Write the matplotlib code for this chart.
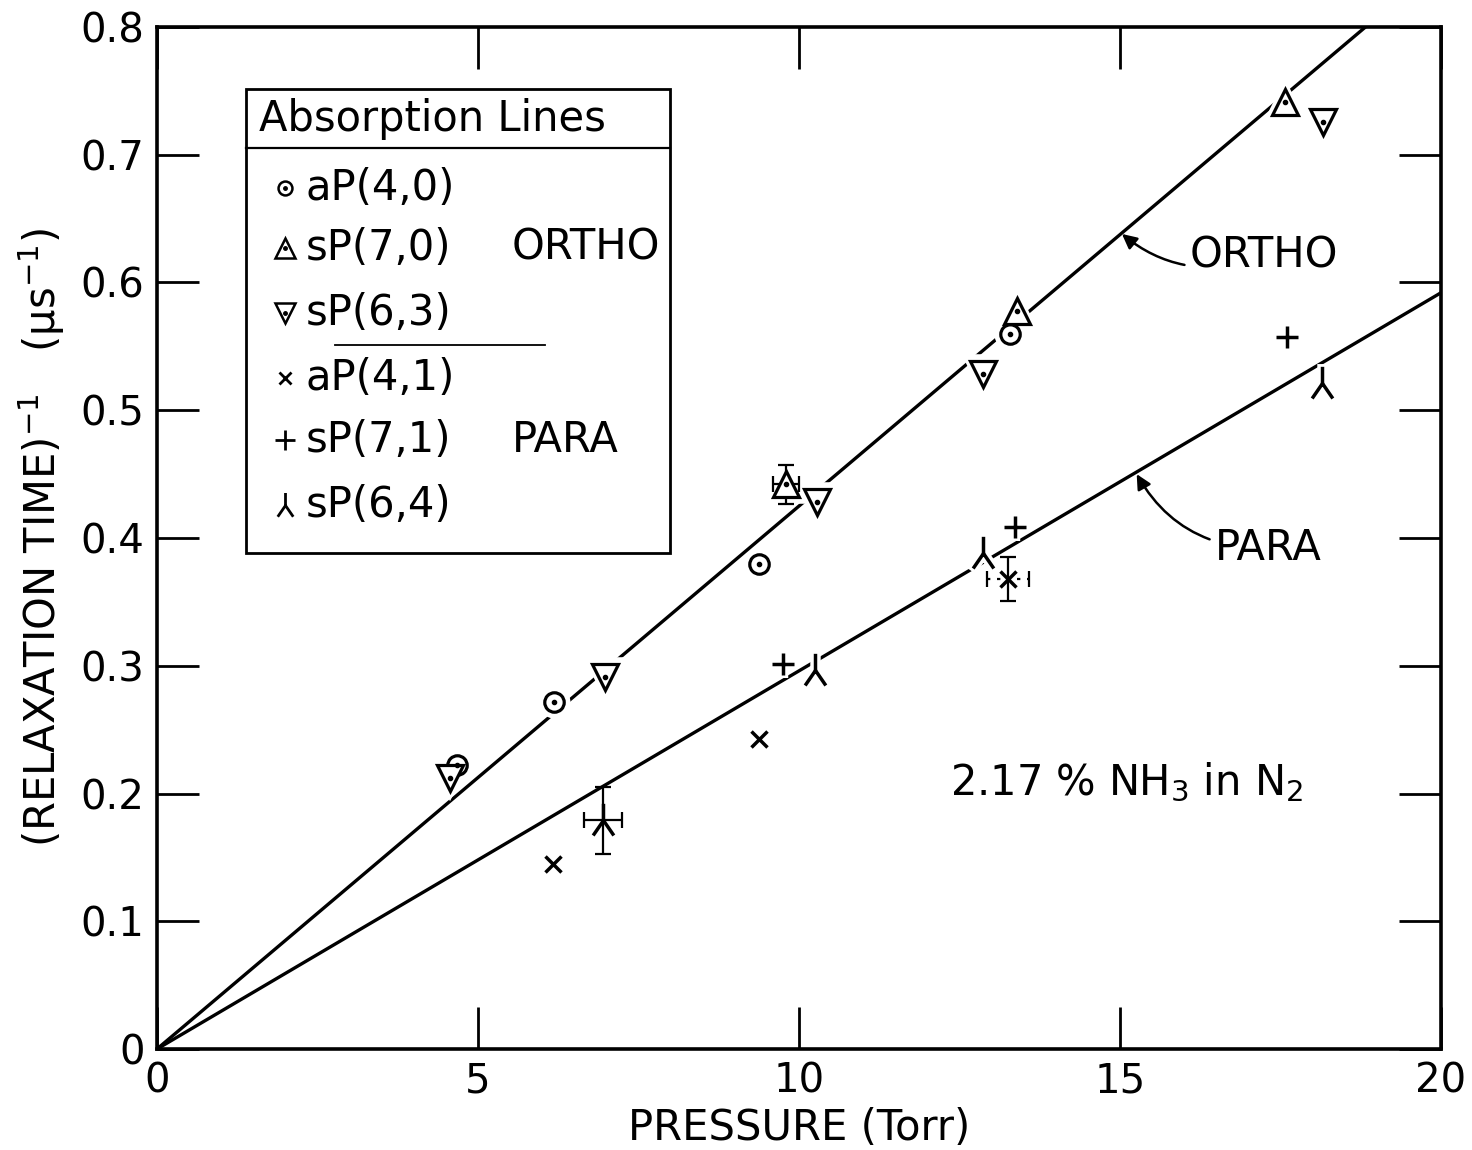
import numpy as np
import matplotlib.pyplot as plt
from matplotlib.path import Path
from matplotlib.patches import Rectangle

plt.rcParams['font.family'] = 'DejaVu Sans'
plt.rcParams['mathtext.default'] = 'regular'

# measured relaxation rates (1/us) against pressure (Torr)
# ORTHO lines
p_aP40 = [4.67, 6.18, 9.38, 13.29]
r_aP40 = [0.222, 0.272, 0.380, 0.560]
p_sP70 = [9.80, 13.40, 17.57]
r_sP70 = [0.442, 0.578, 0.741]
p_sP63 = [4.56, 6.98, 10.28, 12.87, 18.16]
r_sP63 = [0.212, 0.291, 0.428, 0.528, 0.726]
# PARA lines
p_aP41 = [6.17, 9.38, 13.26]
r_aP41 = [0.145, 0.243, 0.368]
p_sP71 = [9.75, 13.36, 17.60]
r_sP71 = [0.301, 0.409, 0.557]
p_sP64 = [6.95, 10.25, 12.87, 18.15]
r_sP64 = [0.179, 0.297, 0.388, 0.521]

# points carrying error bars: (p, r, dp, dr)
err_sP70 = (9.80, 0.442, 0.20, 0.015)
err_aP41 = (13.26, 0.368, 0.33, 0.017)
err_sP64 = (6.95, 0.179, 0.30, 0.026)

# fitted slopes of the two straight lines through the origin
ortho_slope = 0.0425
para_slope = 0.0296

legend_labels = ['aP(4,0)', 'sP(7,0)', 'sP(6,3)', 'aP(4,1)', 'sP(7,1)', 'sP(6,4)']

FS = 30
TFS = 29
LW = 2.4

# lambda-like marker: short stem up, two legs down
lam = Path([(0, 0), (0, 1.0), (0, 0), (-0.62, -0.9), (0, 0), (0.62, -0.9)],
           [Path.MOVETO, Path.LINETO, Path.MOVETO, Path.LINETO, Path.MOVETO, Path.LINETO])

fig = plt.figure(figsize=(14.72, 11.5), dpi=100)
ax = fig.add_axes([157 / 1472, 101 / 1150, 1284 / 1472, 1022 / 1150])

xx = np.array([0, 20])
ax.plot(xx, ortho_slope * xx, color='black', lw=LW, zorder=2)
ax.plot(xx, para_slope * xx, color='black', lw=LW, zorder=2)


def hollow(p, r, marker, ms, dot=True):
    # white halo first so the fit line breaks around the symbol
    ax.plot(p, r, ls='none', marker=marker, ms=ms + 5, mfc='white', mec='white',
            mew=4, zorder=3)
    ax.plot(p, r, ls='none', marker=marker, ms=ms, mfc='white', mec='black',
            mew=2.3, zorder=4)
    if dot:
        ax.plot(p, r, ls='none', marker='o', ms=3, color='black', zorder=5)


def stroke(p, r, marker, ms, mew=2.5):
    ax.plot(p, r, ls='none', marker=marker, ms=ms + 4, color='white', mew=mew + 5,
            zorder=3)
    ax.plot(p, r, ls='none', marker=marker, ms=ms, color='black', mew=mew, zorder=4)


def errbar(e, dashed_x=False):
    eb = ax.errorbar([e[0]], [e[1]], xerr=[e[2]], yerr=[e[3]], fmt='none',
                     ecolor='black', elinewidth=1.6, capsize=6, capthick=1.6,
                     zorder=4)
    if dashed_x:
        eb[2][0].set_linestyle((0, (1.5, 3)))


errbar(err_sP70)
errbar(err_aP41, dashed_x=True)
errbar(err_sP64)

hollow(p_aP40, r_aP40, 'o', 14)
hollow(p_sP70, r_sP70, '^', 19)
hollow(p_sP63, r_sP63, 'v', 19)
stroke(p_aP41, r_aP41, 'x', 11)
stroke(p_sP71, r_sP71, '+', 16)
stroke(p_sP64, r_sP64, lam, 24)

ax.set_xlim(0, 20)
ax.set_ylim(0, 0.8)
ax.set_xticks([0, 5, 10, 15, 20])
ax.set_xticklabels(['0', '5', '10', '15', '20'])
ax.set_yticks(np.arange(0, 0.81, 0.1))
ax.set_yticklabels(['0', '0.1', '0.2', '0.3', '0.4', '0.5', '0.6', '0.7', '0.8'])
ax.tick_params(direction='in', length=30, width=2, top=True, right=True,
               labelsize=TFS, pad=9)
for s in ax.spines.values():
    s.set_linewidth(2.6)

ax.set_xlabel('PRESSURE (Torr)', fontsize=FS, labelpad=4)
ax.set_ylabel('(RELAXATION TIME)$^{-1}$   ($\\mu$s$^{-1}$)', fontsize=FS, labelpad=10)

# curve labels with arrows
ax.annotate('ORTHO', xy=(15.03, 0.638), xytext=(16.09, 0.6215), fontsize=FS,
            ha='left', va='center',
            arrowprops=dict(arrowstyle='-|>', color='black', lw=1.8,
                            connectionstyle='arc3,rad=-0.3', shrinkA=2, shrinkB=0,
                            mutation_scale=22))
ax.annotate('PARA', xy=(15.26, 0.450), xytext=(16.48, 0.392), fontsize=FS,
            ha='left', va='center',
            arrowprops=dict(arrowstyle='-|>', color='black', lw=1.8,
                            connectionstyle='arc3,rad=-0.3', shrinkA=2, shrinkB=0,
                            mutation_scale=22))

ax.text(12.35, 0.209, '2.17 % NH$_3$ in N$_2$', fontsize=FS, ha='left', va='center')

# key box drawn in axes fraction
W, H = 1284.0, 1022.0
def fx(px):
    return (px - 157) / W
def fy(py):
    return (1049 - py) / H

ax.add_patch(Rectangle((fx(246), fy(553)), fx(670) - fx(246), fy(89) - fy(553),
                       transform=ax.transAxes, fill=True, facecolor='white',
                       edgecolor='black', lw=2, zorder=6))
ax.plot([fx(246), fx(670)], [fy(148), fy(148)], transform=ax.transAxes,
        color='black', lw=1.6, zorder=7)
ax.plot([fx(335), fx(545)], [fy(345), fy(345)], transform=ax.transAxes,
        color='black', lw=1.3, zorder=7)
ax.text(fx(259), fy(119), 'Absorption Lines', transform=ax.transAxes,
        fontsize=FS, ha='left', va='center', zorder=7)

row_y = [188, 248, 313, 378, 440, 505]
key_markers = [('o', 10, True), ('^', 14, True), ('v', 14, True),
               ('x', 9, False), ('+', 14, False), (lam, 18, False)]
for lab, py, (m, ms, hol) in zip(legend_labels, row_y, key_markers):
    if hol:
        ax.plot([fx(285)], [fy(py)], transform=ax.transAxes, ls='none', marker=m,
                ms=ms, mfc='white', mec='black', mew=1.8, zorder=8, clip_on=False)
        ax.plot([fx(285)], [fy(py)], transform=ax.transAxes, ls='none', marker='o',
                ms=2.5, color='black', zorder=9, clip_on=False)
    else:
        ax.plot([fx(285)], [fy(py)], transform=ax.transAxes, ls='none', marker=m,
                ms=ms, color='black', mew=2, zorder=8, clip_on=False)
    ax.text(fx(306), fy(py), lab, transform=ax.transAxes, fontsize=FS,
            ha='left', va='center', zorder=8)

ax.text(fx(512), fy(248), 'ORTHO', transform=ax.transAxes, fontsize=FS,
        ha='left', va='center', zorder=8)
ax.text(fx(512), fy(440), 'PARA', transform=ax.transAxes, fontsize=FS,
        ha='left', va='center', zorder=8)

fig.savefig('out.png', dpi=100)
plt.close(fig)
